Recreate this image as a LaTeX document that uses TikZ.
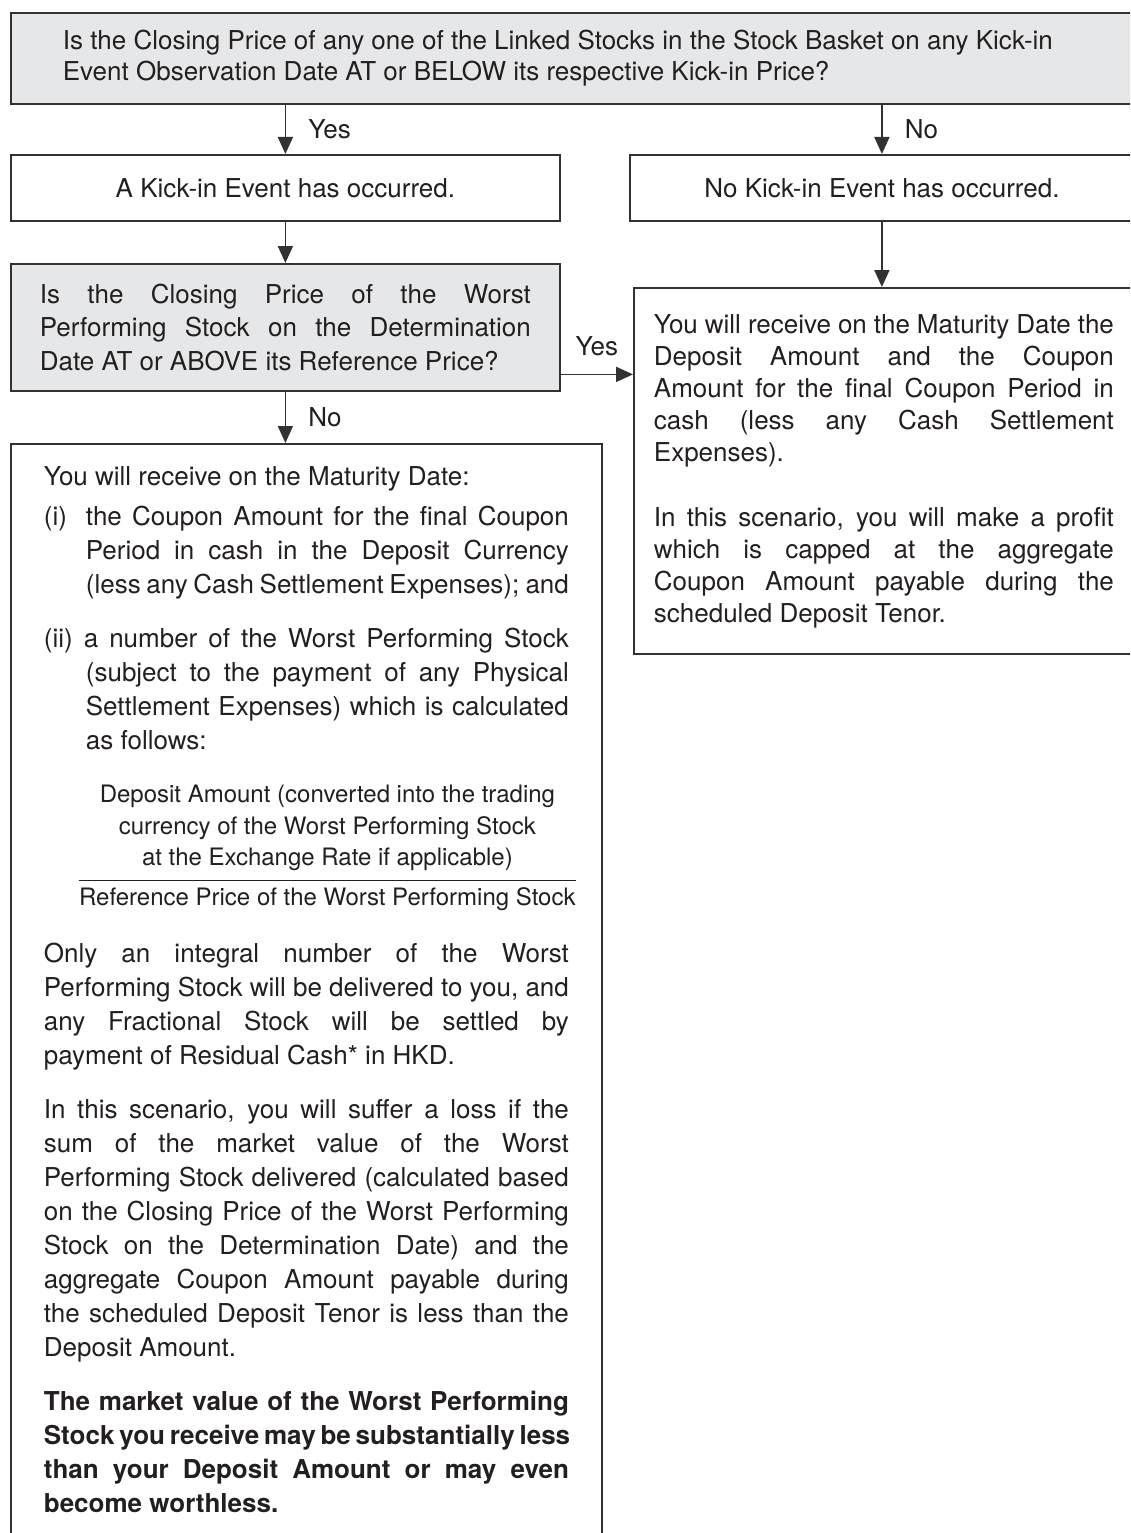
\documentclass[tikz,border=0pt]{standalone}
\usepackage{fontspec}
\setmainfont{TeX Gyre Heros}
\usepackage{xcolor}
\usetikzlibrary{arrows.meta,positioning}
\definecolor{boxgray}{RGB}{230,231,232}
\definecolor{linedark}{RGB}{50,50,50}
\definecolor{textdark}{RGB}{35,31,32}
\newlength{\hangind}
\setlength{\hangind}{42pt}
\newcommand{\fracfont}{\fontsize{24}{34}\selectfont}
\newcommand{\jl}[1]{\makebox[\linewidth][s]{#1}}
\newcommand{\il}[1]{\makebox[\linewidth][r]{\makebox[\dimexpr\linewidth-\hangind\relax][s]{#1}}}
\newcommand{\cl}[1]{\makebox[\linewidth][r]{\makebox[\dimexpr\linewidth-\hangind\relax]{#1}}}

\begin{document}
\begin{tikzpicture}[x=1pt, y=-1pt,
    font=\fontsize{26}{33}\selectfont, text=textdark,
    qbox/.style={draw=linedark, line width=1.8pt, fill=boxgray, inner sep=0pt, anchor=north west,
                 execute at begin node={\spaceskip=0pt\xspaceskip=0pt\relax}},
    abox/.style={draw=linedark, line width=1.8pt, fill=white, inner sep=0pt, anchor=north west,
                 execute at begin node={\spaceskip=0pt\xspaceskip=0pt\relax}},
    arr/.style={draw=linedark, line width=1.8pt, -{Triangle[length=17pt,width=15pt]}},
    lbl/.style={inner sep=0pt}]
    \useasboundingbox (0,0) rectangle (1130,1533);
    \clip (0,0) rectangle (1130,1533);

    % questions
    \node[qbox, minimum width=1124pt, minimum height=91pt, text width=1020pt,
          font=\fontsize{26}{31}\selectfont] (q1) at (10,12)
        {Is the Closing Price of any one of the Linked Stocks in the Stock Basket on any Kick-in\\
         Event Observation Date AT or BELOW its respective Kick-in Price?};
    \node[abox, minimum width=549pt, minimum height=66pt] (kin) at (10,154) {A Kick-in Event has occurred.};
    \node[abox, minimum width=504pt, minimum height=66pt] (nokin) at (629,154) {No Kick-in Event has occurred.};
    \node[qbox, minimum width=549pt, minimum height=127pt, text width=491pt,
          font=\fontsize{26}{33.5}\selectfont] (q2) at (10,263)
        {\jl{Is the Closing Price of the Worst}\\
         \jl{Performing Stock on the Determination}\\
         Date AT or ABOVE its Reference Price?};

    % outcomes
    \node[abox, minimum width=500pt, minimum height=366pt, text width=460pt,
          font=\fontsize{26}{32}\selectfont] (cash) at (633,287)
        {\jl{You will receive on the Maturity Date the}\\
         \jl{Deposit Amount and the Coupon}\\
         \jl{Amount for the final Coupon Period in}\\
         \jl{cash (less any Cash Settlement}\\
         Expenses).\\[33pt]
         \jl{In this scenario, you will make a profit}\\
         \jl{which is capped at the aggregate}\\
         \jl{Coupon Amount payable during the}\\
         scheduled Deposit Tenor.};
    \node[abox, inner xsep=33pt, inner ysep=23pt, text width=525pt,
          font=\fontsize{26}{34}\selectfont] (stock) at (10,443)
        {You will receive on the Maturity Date:\\[6pt]
         \jl{\makebox[\hangind][l]{(i)}the Coupon Amount for the final Coupon}\\
         \il{Period in cash in the Deposit Currency}\\
         \il{(less any Cash Settlement Expenses); and}\\[20pt]
         \jl{(ii) a number of the Worst Performing Stock}\\
         \il{(subject to the payment of any Physical}\\
         \il{Settlement Expenses) which is calculated}\\
         \hspace*{\hangind}as follows:\\[19pt]
         \cl{\fracfont Deposit Amount (converted into the trading}\\[-2.5pt]
         \cl{\fracfont currency of the Worst Performing Stock}\\[-2.5pt]
         \cl{\fracfont at the Exchange Rate if applicable)}\\[-19pt]
         \cl{\rule{497pt}{1.3pt}}\\[-9pt]
         \cl{\fracfont Reference Price of the Worst Performing Stock}\\[23pt]
         \jl{Only an integral number of the Worst}\\
         \jl{Performing Stock will be delivered to you, and}\\
         \jl{any Fractional Stock will be settled by}\\
         payment of Residual Cash* in HKD.\\[20pt]
         \jl{In this scenario, you will suffer a loss if the}\\
         \jl{sum of the market value of the Worst}\\
         \jl{Performing Stock delivered (calculated based}\\
         \jl{on the Closing Price of the Worst Performing}\\
         \jl{Stock on the Determination Date) and the}\\
         \jl{aggregate Coupon Amount payable during}\\
         \jl{the scheduled Deposit Tenor is less than the}\\
         Deposit Amount.\\[20pt]
         \bfseries
         \jl{The market value of the Worst Performing}\\
         \jl{Stock you receive may be substantially less}\\
         \jl{than your Deposit Amount or may even}\\
         become worthless.\\[60pt]
         \mbox{}};

    % connectors
    \draw[arr] (q1.south -| kin.north) -- node[lbl, right=22pt] {Yes} (kin.north);
    \draw[arr] (q1.south -| nokin.north) -- node[lbl, right=22pt] {No} (nokin.north);
    \draw[arr] (kin.south) -- (q2.north);
    \draw[arr] (nokin.south) -- (nokin.south |- cash.north);
    \draw[arr] ([yshift=-47pt]q2.east) -- node[lbl, above=18pt] {Yes} ([yshift=-47pt]q2.east -| cash.west);
    \draw[arr] (q2.south) -- node[lbl, right=22pt] {No} (q2.south |- stock.north);
\end{tikzpicture}
\end{document}
